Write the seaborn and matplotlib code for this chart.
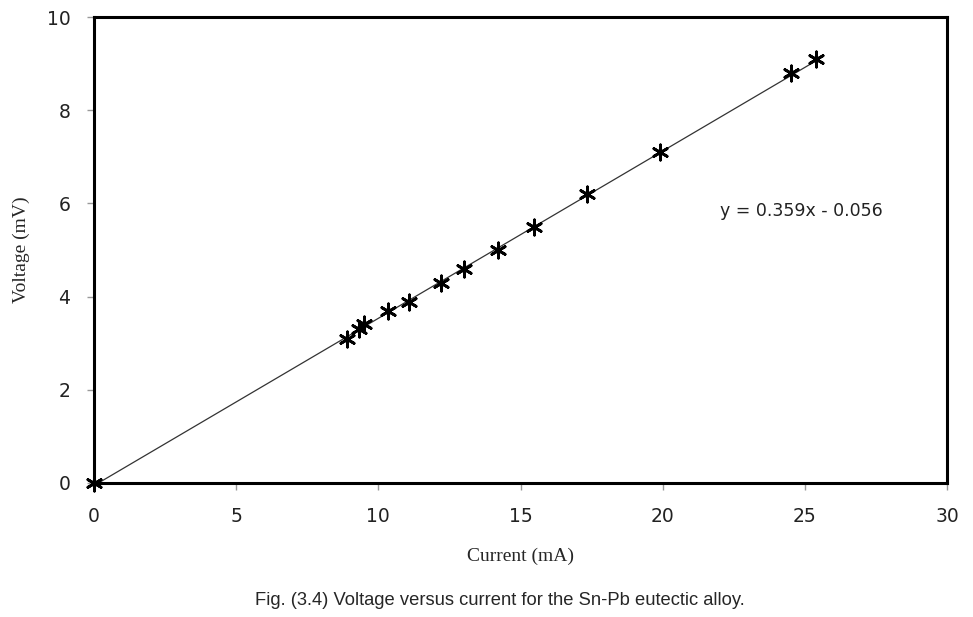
import matplotlib
matplotlib.use("Agg")
import matplotlib.pyplot as plt
import seaborn as sns
import numpy as np
import pandas as pd

current_mA = [0.0, 8.9, 9.32, 9.5, 10.34, 11.08, 12.2, 13.0, 14.2, 15.48, 17.34, 19.9, 24.5, 25.4]
voltage_mV = [0.0, 3.09, 3.30, 3.41, 3.69, 3.88, 4.29, 4.59, 5.0, 5.49, 6.2, 7.1, 8.8, 9.1]
slope = 0.359
intercept = -0.056
x_ticks = [0, 5, 10, 15, 20, 25, 30]
y_ticks = [0, 2, 4, 6, 8, 10]

sns.set_style("white")
plt.rcParams['font.family'] = ['DejaVu Sans']

df = pd.DataFrame({"Current (mA)": current_mA, "Voltage (mV)": voltage_mV})

fig = plt.figure(figsize=(9.73, 6.17), dpi=100)
ax = fig.add_axes([0.0966, 0.2172, 0.8767, 0.7552])

# trendline
xs = np.array([min(current_mA), max(current_mA)])
ax.plot(xs, slope * xs + intercept, color="#333333", lw=0.9, zorder=2)

sns.scatterplot(data=df, x="Current (mA)", y="Voltage (mV)", ax=ax,
                marker=(6, 2, 0), s=120, color="black", linewidth=2.0,
                edgecolor="black", zorder=3, clip_on=False)

ax.set_xlim(0, 30)
ax.set_ylim(0, 10)
ax.set_xticks(x_ticks)
ax.set_yticks(y_ticks)
ax.tick_params(axis="both", direction="out", length=5, width=1, color="#999999",
               labelsize=13.5, left=True, bottom=True, labelcolor="#222222")
ax.tick_params(axis="x", pad=12)
ax.tick_params(axis="y", pad=12)
for sp in ax.spines.values():
    sp.set_visible(True)
    sp.set_color("black")
    sp.set_linewidth(2.2)

ax.set_xlabel("Current (mA)", family="Liberation Serif", fontsize=14, labelpad=16)
ax.set_ylabel("Voltage (mV)", family="Liberation Serif", fontsize=14, labelpad=12)

ax.text(0.7337, 0.584, "y = 0.359x - 0.056", transform=ax.transAxes,
        fontsize=12.5, va="center", ha="left", color="#222222")

fig.text(0.514, 0.027, "Fig. (3.4) Voltage versus current for the Sn-Pb eutectic alloy.",
         ha="center", va="center", fontsize=13.2, family="Liberation Sans")

fig.savefig("out.png", dpi=100)
